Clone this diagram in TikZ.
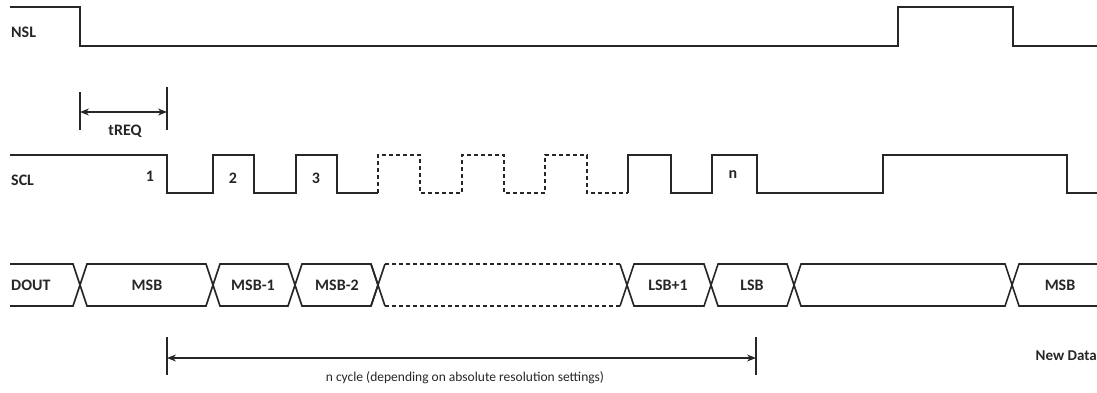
\documentclass[tikz,border=0pt]{standalone}
\usepackage{fontspec}
\setmainfont{Carlito}
\usepackage{tikz}
\usetikzlibrary{arrows.meta,positioning}
\tikzstyle{wave} = [line width=1.6pt, line join=miter, color=black!85]
\tikzstyle{dashwave} = [wave, dash pattern=on 4pt off 3pt]
\tikzstyle{siglabel} = [font=\bfseries\fontsize{16}{19}\selectfont, inner sep=0pt, text=black!85]
\tikzstyle{note} = [font=\fontsize{13.5}{16}\selectfont, inner sep=0pt, text=black!85]
\tikzstyle{dimbar} = [line width=1.3pt, color=black!85]
\tikzstyle{dimarrow} = [line width=1.2pt, color=black!85, {Stealth[length=9pt,width=7pt]}-{Stealth[length=9pt,width=7pt]}]

\begin{document}
\begin{tikzpicture}[x=1pt, y=-1pt]
\useasboundingbox (0,0) rectangle (1097,392);

% Signal names
\node[siglabel, anchor=west] (nsl) at (11,32) {NSL};
\node[siglabel, anchor=west] (scl) at (11,180) {SCL};
\node[siglabel, anchor=west] (dout) at (11,285) {DOUT};

% NSL line
\draw[wave] (10,7) -- (80,7) -- (80,46) -- (898,46) -- (898,7) -- (1013,7) -- (1013,46) -- (1097,46);

% tREQ
\draw[dimbar] (80,92) -- (80,130);
\draw[dimbar] (167,87) -- (167,130);
\coordinate (treqL) at (80,112);
\coordinate (treqR) at (167,112);
\draw[dimarrow] (treqL) -- (treqR);
\node[siglabel] (treq) at (125,131) {tREQ};

% SCL line
\draw[wave] (10,155) -- (167,155) -- (167,193) -- (213,193) -- (213,155) -- (254,155) -- (254,193)
  -- (296,193) -- (296,155) -- (337,155) -- (337,193) -- (378,193);
\draw[dashwave] (378,193) -- (378,155) -- (420,155) -- (420,193) -- (462,193) -- (462,155) -- (504,155)
  -- (504,193) -- (545,193) -- (545,155) -- (587,155) -- (587,193) -- (628,193);
\draw[wave] (628,193) -- (628,155) -- (671,155) -- (671,193) -- (712,193) -- (712,155) -- (757,155)
  -- (757,193) -- (883,193) -- (883,155) -- (1067,155) -- (1067,193) -- (1097,193);

% Clock numbers
\node[siglabel] (clk1) at (150,176) {1};
\node[siglabel] (clk2) at (233,178) {2};
\node[siglabel] (clk3) at (316,178) {3};
\node[siglabel] (clkn) at (733,175) {n};

% DOUT bus
\draw[wave] (10,264) -- (73,264) -- (80,285) -- (73,306) -- (10,306);
\draw[wave] (80,285) -- (87,264) -- (206,264) -- (213,285) -- (206,306) -- (87,306) -- cycle;
\draw[wave] (213,285) -- (220,264) -- (288,264) -- (295,285) -- (288,306) -- (220,306) -- cycle;
\draw[wave] (295,285) -- (302,264) -- (371,264) -- (378,285) -- (371,306) -- (302,306) -- cycle;
\draw[wave] (371,264) -- (378,285) -- (371,306) (378,285) -- (385,264) (378,285) -- (385,306);
\draw[dashwave] (385,264) -- (620,264) (385,306) -- (620,306);
\draw[wave] (620,264) -- (627,285) -- (620,306);
\draw[wave] (627,285) -- (634,264) -- (704,264) -- (711,285) -- (704,306) -- (634,306) -- cycle;
\draw[wave] (711,285) -- (718,264) -- (787,264) -- (794,285) -- (787,306) -- (718,306) -- cycle;
\draw[wave] (794,285) -- (801,264) -- (1005,264) -- (1012,285) -- (1005,306) -- (801,306) -- cycle;
\draw[wave] (1097,264) -- (1019,264) -- (1012,285) -- (1019,306) -- (1097,306);

% Data bits
\node[siglabel] (msb) at (147,285) {MSB};
\node[siglabel] (msb1) at (253,285) {MSB-1};
\node[siglabel] (msb2) at (337,285) {MSB-2};
\node[siglabel] (lsb1) at (668,285) {LSB+1};
\node[siglabel] (lsb) at (752,285) {LSB};
\node[siglabel] (newmsb) at (1060,285) {MSB};

% n cycle
\draw[dimbar] (167,337) -- (167,375);
\draw[dimbar] (756,337) -- (756,375);
\coordinate (cycL) at (167,358);
\coordinate (cycR) at (756,358);
\draw[dimarrow] (cycL) -- (cycR);
\node[note] (ncycle) at (465,378) {n cycle (depending on absolute resolution settings)};
\node[siglabel, anchor=east, font=\bfseries\fontsize{15}{18}\selectfont] (newdata) at (1097,356) {New Data};
\end{tikzpicture}
\end{document}
